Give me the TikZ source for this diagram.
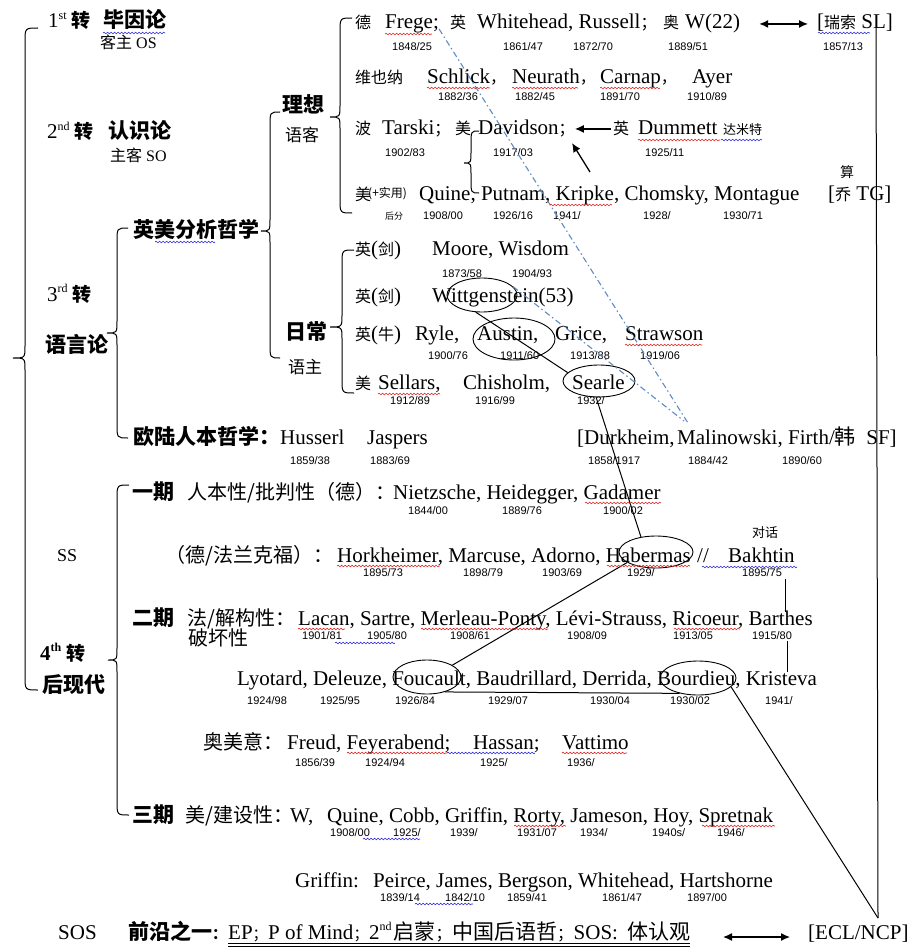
\documentclass[tikz,border=0pt]{standalone}
\usepackage{fontspec}
\setmainfont{Liberation Serif}
\newfontfamily\cjk{Noto Sans CJK SC}
\newfontfamily\datefont{Liberation Sans}
\usetikzlibrary{arrows.meta,shapes.geometric,decorations.pathmorphing,calc}
\newcommand\zhx[1]{{\cjk #1}}
\newcommand\zhsz[2]{{\cjk\fontsize{#1}{#1}\selectfont #2}}
\newcommand\zhbd[1]{{\cjk\bfseries #1}}
\newcommand\zhp[1]{\makebox[0.5em][l]{\cjk #1}}
\newcommand\supx[1]{\raisebox{0.42em}{\fontsize{12}{12}\selectfont #1}}
\newcommand\wbrace[6]{\draw[brc] (#1,#4) .. controls (#2,#4) .. (#2,#4+14) -- (#2,#5-12) .. controls (#2,#5) .. (#3,#5) .. controls (#2,#5) .. (#2,#5+12) -- (#2,#6-14) .. controls (#2,#6) .. (#1,#6);}
\definecolor{ddblue}{RGB}{95,140,195}
\definecolor{sqred}{RGB}{225,30,30}
\definecolor{sqblue}{RGB}{40,40,220}
\tikzset{
 nm/.style={anchor=base west, inner sep=0pt, font=\fontsize{21}{21}\selectfont},
 dte/.style={anchor=base west, inner sep=0pt, font=\datefont\fontsize{11}{11}\selectfont, text=black},
 elli/.style={draw, ellipse, inner sep=0pt, line width=0.9pt},
 conn/.style={line width=1pt},
 brc/.style={line width=1pt},
 arrw/.style={line width=1.3pt, -{Latex[length=9pt,width=8pt]}},
 darrw/.style={line width=1.3pt, {Latex[length=9pt,width=8pt]}-{Latex[length=9pt,width=8pt]}},
 bluedd/.style={line width=1.1pt, color=ddblue, dash pattern=on 6pt off 3pt on 1.5pt off 3pt},
 sqr/.style={decorate, decoration={snake, amplitude=0.8pt, segment length=3.5pt}, line width=0.6pt, color=sqred},
 sqb/.style={sqr, color=sqblue},
}
\begin{document}
\begin{tikzpicture}[x=1pt,y=-1pt]
\useasboundingbox (0,0) rectangle (918,947);

% ---------- braces ----------
\wbrace{38}{25}{13}{28}{358}{690}
\wbrace{128}{117}{107}{228}{333}{438}
\wbrace{280}{270}{261}{112}{231}{358}
\wbrace{352}{340}{330}{18}{117}{213}
\wbrace{354}{342}{330}{250}{327}{393}
\wbrace{129}{117}{108}{485}{660}{815}
\wbrace{479}{471}{464}{131}{163}{193}

% ---------- left column ----------
\node[nm] (h1) at (48,28) {1\supx{st} \zhsz{19}{\bfseries 转}};
\node[nm] (h1b) at (103,28) {\zhbd{毕因论}};
\node[nm,font=\fontsize{16}{16}\selectfont] (h1s) at (100,49) {\zhx{客主} OS};
\node[nm] (h2) at (47,139) {2\supx{nd} \zhsz{19}{\bfseries 转}};
\node[nm] (h2b) at (108,139) {\zhbd{认识论}};
\node[nm,font=\fontsize{16}{16}\selectfont] (h2s) at (110,161) {\zhx{主客} SO};
\node[nm] (h3) at (47,301) {3\supx{rd} \zhsz{19}{\bfseries 转}};
\node[nm] (h3b) at (45,352) {\zhbd{语言论}};
\node[nm,font=\fontsize{18}{18}\selectfont] (hss) at (57,561) {SS};
\node[nm,font=\bfseries\fontsize{21}{21}\selectfont] (h4) at (40,660) {4\supx{th} \zhsz{19}{\bfseries 转}};
\node[nm] (h4b) at (42,692) {\zhbd{后现代}};
\node[nm] (hsos) at (58,939) {SOS};

% ---------- level 2 / 3 ----------
\node[nm] (yinmei) at (133,237) {\zhbd{英美分析哲学}};
\node[nm] (oulu) at (133,444) {\zhbd{欧陆人本哲学}\zhp{\bfseries ：}};
\node[nm] (husserl) at (280,444) {Husserl};
\node[nm] (jaspers) at (367,444) {Jaspers};
\node[dte] (dHus) at (290,464) {1859/38};
\node[dte] (dJas) at (370,464) {1883/69};
\node[nm] (durk) at (577,444) {[Durkheim,};
\node[nm] (malin) at (677,444) {Malinowski,};
\node[nm] (firth) at (788,444) {Firth/\zhx{韩}\ \ SF]};
\node[dte] (dDur) at (588,464) {1858/1917};
\node[dte] (dMal) at (688,464) {1884/42};
\node[dte] (dFir) at (782,464) {1890/60};
\node[nm] (lixiang) at (282,113) {\zhbd{理想}};
\node[nm] (yuke) at (285,141) {\zhsz{17}{语客}};
\node[nm] (richang) at (285,339) {\zhbd{日常}};
\node[nm] (yuzhu) at (288,373) {\zhsz{17}{语主}};

% ---------- ideal language rows ----------
\node[nm] (de) at (355,29) {\zhsz{16}{德}};
\node[nm] (frege) at (385,29) {Frege;};
\node[nm] (ying1) at (450,29) {\zhsz{16}{英}};
\node[nm] (whr) at (477,29) {Whitehead, Russell\zhsz{16}{；}};
\node[nm] (ao) at (663,29) {\zhsz{16}{奥}};
\node[nm] (w22) at (685,29) {W(22)};
\node[nm] (sl) at (817,29) {[\zhsz{16}{瑞索} SL]};
\node[dte] (dFre) at (392,51) {1848/25};
\node[dte] (dWhi) at (503,51) {1861/47};
\node[dte] (dRus) at (573,51) {1872/70};
\node[dte] (dW) at (668,51) {1889/51};
\node[dte] (dSL) at (823,51) {1857/13};

\node[nm] (wyn) at (355,84) {\zhsz{16}{维也纳}};
\node[nm] (schlick) at (427,84) {Schlick\zhsz{16}{，}};
\node[nm] (neurath) at (512,84) {Neurath\zhsz{16}{，}};
\node[nm] (carnap) at (600,84) {Carnap\zhsz{16}{，}};
\node[nm] (ayer) at (692,84) {Ayer};
\node[dte] (dSch) at (438,101) {1882/36};
\node[dte] (dNeu) at (515,101) {1882/45};
\node[dte] (dCar) at (600,101) {1891/70};
\node[dte] (dAye) at (687,101) {1910/89};

\node[nm] (bo) at (355,135) {\zhsz{16}{波}};
\node[nm] (tarski) at (382,135) {Tarski\zhsz{16}{；}};
\node[nm] (mei3) at (455,135) {\zhsz{16}{美}};
\node[nm] (davidson) at (478,135) {Davidson\zhsz{16}{；}};
\node[nm] (ying3) at (613,135) {\zhsz{16}{英}};
\node[nm] (dummett) at (638,135) {Dummett};
\node[nm] (dmt) at (723,135) {\zhsz{13}{达米特}};
\node[dte] (dTar) at (385,156) {1902/83};
\node[dte] (dDav) at (493,156) {1917/03};
\node[dte] (dDum) at (645,156) {1925/11};

\node[nm] (mei4) at (355,200) {\zhsz{16}{美}};
\node[nm] (shiyong) at (368,197) {\zhsz{12}{(+实用)}};
\node[nm] (qlist) at (419,200) {Quine, Putnam, Kripke, Chomsky, Montague};
\node[nm] (qiao) at (828,200) {[\zhsz{16}{乔} TG]};
\node[nm] (suan) at (840,177) {\zhsz{14}{算}};
\node[dte] (hf) at (385,219) {\zhsz{9}{后分}};
\node[dte] (dQui) at (423,219) {1908/00};
\node[dte] (dPut) at (493,219) {1926/16};
\node[dte] (dKri) at (553,219) {1941/};
\node[dte] (dCho) at (643,219) {1928/};
\node[dte] (dMon) at (723,219) {1930/71};

% ---------- ordinary language rows ----------
\node[nm] (yj1) at (355,255) {\zhsz{16}{英}(\zhsz{16}{剑})};
\node[nm] (moore) at (432,255) {Moore, Wisdom};
\node[dte] (dMoo) at (442,277) {1873/58};
\node[dte] (dWis) at (512,277) {1904/93};
\node[nm] (yj2) at (355,302) {\zhsz{16}{英}(\zhsz{16}{剑})};
\node[nm] (witt) at (432,302) {Wittgenstein(53)};
\node[nm] (yn) at (355,340) {\zhsz{16}{英}(\zhsz{16}{牛})};
\node[nm] (ryle) at (415,340) {Ryle,};
\node[nm] (austin) at (477,340) {Austin,};
\node[nm] (grice) at (555,340) {Grice,};
\node[nm] (strawson) at (625,340) {Strawson};
\node[dte] (dRyl) at (428,359) {1900/76};
\node[dte] (dAus) at (500,359) {1911/60};
\node[dte] (dGri) at (570,359) {1913/88};
\node[dte] (dStr) at (640,359) {1919/06};
\node[nm] (mei8) at (355,389) {\zhsz{16}{美}};
\node[nm] (sellars) at (378,389) {Sellars,};
\node[nm] (chisholm) at (463,389) {Chisholm,};
\node[nm] (searle) at (572,389) {Searle};
\node[dte] (dSel) at (390,404) {1912/89};
\node[dte] (dChi) at (475,404) {1916/99};
\node[dte] (dSea) at (577,404) {1932/};

% ---------- post-modern ----------
\node[nm] (yiqi) at (132,499) {\zhbd{一期}};
\node[nm] (renben) at (187,499) {\zhsz{20}{人本性/批判性（德）：}};
\node[nm] (p1list) at (393,499) {Nietzsche, Heidegger, Gadamer};
\node[dte] (dNie) at (408,514) {1844/00};
\node[dte] (dHei) at (502,514) {1889/76};
\node[dte] (dGad) at (603,514) {1900/02};

\node[nm] (frank) at (165,562) {\zhsz{20}{（德/法兰克福）：}};
\node[nm] (p2list) at (337,562) {Horkheimer, Marcuse, Adorno, Habermas};
\node[nm] (slash) at (697,562) {//};
\node[nm] (bakhtin) at (728,562) {Bakhtin};
\node[nm] (duihua) at (752,537) {\zhsz{13}{对话}};
\node[dte] (dHor) at (363,576) {1895/73};
\node[dte] (dMar) at (463,576) {1898/79};
\node[dte] (dAdo) at (542,576) {1903/69};
\node[dte] (dHab) at (627,576) {1929/};
\node[dte] (dBak) at (742,576) {1895/75};

\node[nm] (erqi) at (132,625) {\zhbd{二期}};
\node[nm] (jiegou) at (187,625) {\zhsz{20}{法/解构性：}};
\node[nm] (pohuai) at (188,645) {\zhsz{20}{破坏性}};
\node[nm] (p3list) at (298,625) {Lacan, Sartre, Merleau-Ponty, Lévi-Strauss, Ricoeur, Barthes};
\node[dte] (dLac) at (302,639) {1901/81};
\node[dte] (dSar) at (367,639) {1905/80};
\node[dte] (dMer) at (450,639) {1908/61};
\node[dte] (dLev) at (567,639) {1908/09};
\node[dte] (dRic) at (673,639) {1913/05};
\node[dte] (dBar) at (752,639) {1915/80};

\node[nm] (p4list) at (237,685) {Lyotard, Deleuze, Foucault, Baudrillard, Derrida, Bourdieu, Kristeva};
\node[dte] (dLyo) at (247,704) {1924/98};
\node[dte] (dDel) at (320,704) {1925/95};
\node[dte] (dFou) at (395,704) {1926/84};
\node[dte] (dBau) at (488,704) {1929/07};
\node[dte] (dDer) at (590,704) {1930/04};
\node[dte] (dBou) at (670,704) {1930/02};
\node[dte] (dKri2) at (765,704) {1941/};

\node[nm] (aomei) at (203,749) {\zhsz{20}{奥美意：}};
\node[nm] (freud) at (287,749) {Freud, Feyerabend;};
\node[nm] (hassan) at (473,749) {Hassan;};
\node[nm] (vattimo) at (562,749) {Vattimo};
\node[dte] (dFre2) at (295,766) {1856/39};
\node[dte] (dFey) at (365,766) {1924/94};
\node[dte] (dHas) at (480,766) {1925/};
\node[dte] (dVat) at (567,766) {1936/};

\node[nm] (sanqi) at (132,822) {\zhbd{三期}};
\node[nm] (jianshe) at (185,822) {\zhsz{20}{美/建设性：}};
\node[nm] (wq) at (290,822) {W,};
\node[nm] (p6list) at (327,822) {Quine, Cobb, Griffin, Rorty, Jameson, Hoy, Spretnak};
\node[dte] (dQui2) at (330,836) {1908/00};
\node[dte] (dCob) at (393,836) {1925/};
\node[dte] (dGrf) at (450,836) {1939/};
\node[dte] (dRor) at (517,836) {1931/07};
\node[dte] (dJam) at (580,836) {1934/};
\node[dte] (dHoy) at (652,836) {1940s/};
\node[dte] (dSpr) at (717,836) {1946/};

\node[nm] (griffin) at (295,887) {Griffin:};
\node[nm] (p7list) at (373,887) {Peirce, James, Bergson, Whitehead, Hartshorne};
\node[dte] (dPei) at (380,901) {1839/14};
\node[dte] (dJms) at (445,901) {1842/10};
\node[dte] (dBer) at (507,901) {1859/41};
\node[dte] (dWhi2) at (602,901) {1861/47};
\node[dte] (dHar) at (687,901) {1897/00};

% ---------- bottom line ----------
\node[nm] (qy) at (128,939) {\zhbd{前沿之一}\zhsz{15}{\bfseries ：}};
\node[nm] (ep) at (228,939) {EP};
\node[nm] (sc1) at (252.5,939) {\zhsz{15}{；}};
\node[nm] (pom) at (268,939) {P of Mind};
\node[nm] (sc2) at (353.5,939) {\zhsz{15}{；}};
\node[nm] (snd) at (369,939) {2\supx{nd}};
\node[nm] (qm) at (393,939) {\zhx{启蒙}};
\node[nm] (sc3) at (435.5,939) {\zhsz{16}{；}};
\node[nm] (zg) at (452,939) {\zhx{中国后语哲}};
\node[nm] (sc4) at (557,939) {\zhsz{16}{；}};
\node[nm] (sos2) at (573.5,939) {SOS:};
\node[nm] (trg) at (627,939) {\zhx{体认观}};
\node[nm] (ecl) at (808,939) {[ECL/NCP]};
\draw[line width=0.8pt] ([yshift=-4pt]ep.base west) -- ([yshift=-4pt]trg.base east);
\draw[line width=0.8pt] ([yshift=-7pt]ep.base west) -- ([yshift=-7pt]trg.base east);

% ---------- ellipses ----------
\node[elli, minimum width=70pt, minimum height=34pt] (eW) at (482,295) {};
\node[elli, minimum width=82pt, minimum height=42pt] (eA) at (514,339) {};
\node[elli, minimum width=72pt, minimum height=32pt] (eS) at (599,381) {};
\node[elli, minimum width=74pt, minimum height=32pt] (eH) at (656,552) {};
\node[elli, minimum width=68pt, minimum height=34pt] (eF) at (427,677) {};
\node[elli, minimum width=76pt, minimum height=34pt] (eB) at (698,678) {};

% ---------- blue dash-dot lines ----------
\coordinate (ddendA) at (688,423);
\coordinate (ddendB) at (684,421);
\draw[bluedd] (frege.base east) -- (ddendA);
\draw[bluedd] (eW.15) -- (ddendB);

% ---------- connectors ----------
\draw[conn] (eW.250) -- (eS.165);
\draw[conn] (eS.260) -- (eH.135);
\draw[conn] (eH.200) -- (eF.25);
\draw[conn] (eF.-40) -- (eB.-140);
\coordinate (sltop) at (876,28);
\coordinate (ecltop) at (878,918);
\draw[conn] (sltop) -- (ecltop);
\draw[conn] (eB.-15) -- (ecltop);
\coordinate (bk1) at (785,579);
\coordinate (bk2) at (785,612);
\coordinate (bk3) at (787,641);
\coordinate (bk4) at (787,672);
\draw[conn] (bk1) -- (bk2);
\draw[conn] (bk3) -- (bk4);

% ---------- arrows ----------
\draw[darrw, shorten <=19pt, shorten >=9pt] (w22.east) -- (w22.east -| sl.west);
\draw[arrw, shorten <=2pt] (ying3.west) -- (ying3.west -| davidson.east);
\coordinate (dgs) at (590,172);
\coordinate (dge) at (572,143);
\draw[arrw] (dgs) -- (dge);
\coordinate (a2l) at (723,937);
\coordinate (a2r) at (790,937);
\draw[darrw] (a2l) -- (a2r);

% ---------- spell-check squiggles ----------
\draw[sqb] (103,33) -- (165,33);
\draw[sqb] (155,242) -- (215,242);
\draw[sqb] (818,33) -- (870,33);
\draw[sqb] (721,140) -- (762,140);
\draw[sqb] (702,567) -- (797,567);
\draw[sqb] (335,643) -- (395,643);
\draw[sqb] (447,753) -- (535,753);
\draw[sqb] (363,839) -- (420,839);
\draw[sqb] (415,904) -- (473,904);
\draw[sqr] (385,34) -- (432,34);
\draw[sqr] (427,88) -- (490,88);
\draw[sqr] (512,88) -- (578,88);
\draw[sqr] (600,88) -- (660,88);
\draw[sqr] (638,140) -- (720,140);
\draw[sqr] (550,205) -- (612,205);
\draw[sqr] (625,345) -- (702,345);
\draw[sqr] (378,394) -- (440,394);
\draw[sqr] (585,503) -- (661,503);
\draw[sqr] (337,566) -- (440,566);
\draw[sqr] (607,566) -- (690,566);
\draw[sqr] (298,629) -- (345,629);
\draw[sqr] (421,629) -- (548,629);
\draw[sqr] (674,629) -- (740,629);
\draw[sqr] (347,753) -- (447,753);
\draw[sqr] (562,753) -- (627,753);
\draw[sqr] (514,826) -- (566,826);
\draw[sqr] (702,826) -- (775,826);
\end{tikzpicture}
\end{document}
